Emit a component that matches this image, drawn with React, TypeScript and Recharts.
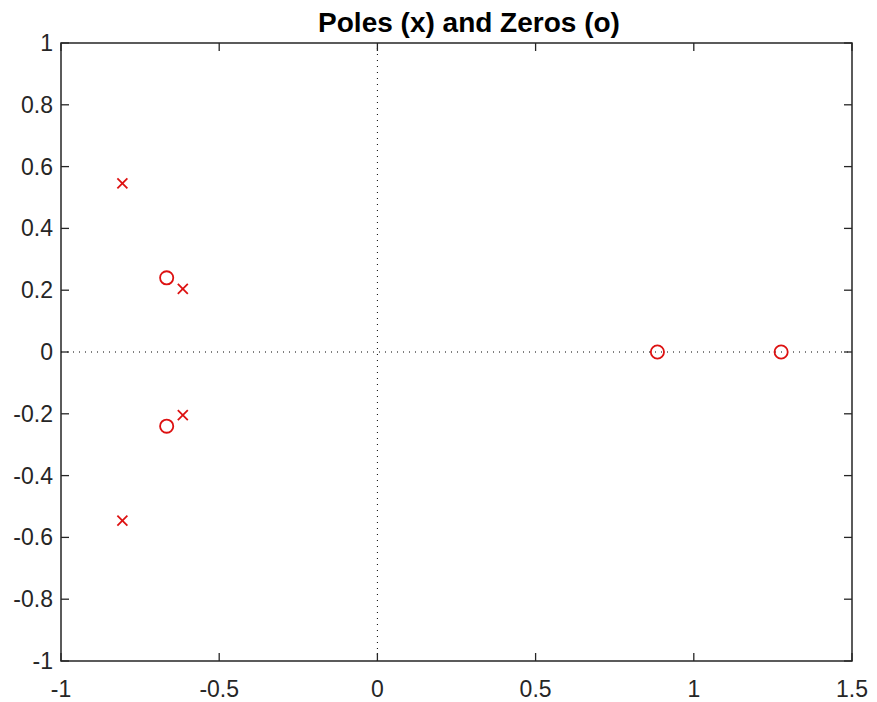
import { ScatterChart, Scatter, XAxis, YAxis, ReferenceLine, ReferenceArea } from 'recharts';

// ─── Data ────────────────────────────────────────────────────────────────────

const poles = [
  { x: -0.806, y: 0.546 },
  { x: -0.806, y: -0.546 },
  { x: -0.615, y: 0.204 },
  { x: -0.615, y: -0.204 },
];

const zeros = [
  { x: -0.666, y: 0.24 },
  { x: -0.666, y: -0.24 },
  { x: 0.885, y: 0 },
  { x: 1.276, y: 0 },
];

const xTicks = [-1, -0.5, 0, 0.5, 1, 1.5];
const yTicks = [-1, -0.8, -0.6, -0.4, -0.2, 0, 0.2, 0.4, 0.6, 0.8, 1];

// ─── Layout ──────────────────────────────────────────────────────────────────

const W = 869;
const H = 694;
const PL = 53;
const PT = 35;
const PR = 844;
const PB = 653;
const TICK = 8;

const FONT = '"Liberation Sans", Arial, Helvetica, sans-serif';
const AXIS_COLOR = '#262626';
const RED = '#dd1111';

function XTick(props: any) {
  const { x, payload } = props;
  return (
    <g>
      <line x1={x} y1={PB} x2={x} y2={PB - TICK} stroke={AXIS_COLOR} strokeWidth={1.3} />
      <line x1={x} y1={PT} x2={x} y2={PT + TICK} stroke={AXIS_COLOR} strokeWidth={1.3} />
      <text x={x} y={PB + 36} textAnchor="middle" fontSize={23} fontFamily={FONT} fill={AXIS_COLOR}>
        {String(payload.value)}
      </text>
    </g>
  );
}

function YTick(props: any) {
  const { y, payload } = props;
  return (
    <g>
      <line x1={PL} y1={y} x2={PL + TICK} y2={y} stroke={AXIS_COLOR} strokeWidth={1.3} />
      <line x1={PR} y1={y} x2={PR - TICK} y2={y} stroke={AXIS_COLOR} strokeWidth={1.3} />
      <text x={PL - 8} y={y + 8} textAnchor="end" fontSize={23} fontFamily={FONT} fill={AXIS_COLOR}>
        {String(payload.value)}
      </text>
    </g>
  );
}

function Cross(props: any) {
  const { cx, cy } = props;
  const s = 5;
  return (
    <g stroke={RED} strokeWidth={1.8}>
      <line x1={cx - s} y1={cy - s} x2={cx + s} y2={cy + s} />
      <line x1={cx - s} y1={cy + s} x2={cx + s} y2={cy - s} />
    </g>
  );
}

function Ring(props: any) {
  const { cx, cy } = props;
  return <circle cx={cx} cy={cy} r={6.6} fill="none" stroke={RED} strokeWidth={1.8} />;
}

export default function App() {
  return (
    <div style={{ position: 'relative', width: W, height: H }}>
      <ScatterChart
        width={W}
        height={H}
        margin={{ top: PT, right: W - PR, bottom: H - PB - 30, left: PL - 45 }}
      >
        <XAxis
          type="number"
          dataKey="x"
          domain={[-1, 1.5]}
          ticks={xTicks}
          allowDataOverflow
          height={30}
          axisLine={false}
          tickLine={false}
          tick={XTick}
          interval={0}
        />
        <YAxis
          type="number"
          dataKey="y"
          domain={[-1, 1]}
          ticks={yTicks}
          allowDataOverflow
          width={45}
          axisLine={false}
          tickLine={false}
          tick={YTick}
          interval={0}
        />
        <ReferenceLine x={0} stroke="#000" strokeWidth={1} strokeDasharray="1 5" />
        <ReferenceLine y={0} stroke="#000" strokeWidth={1} strokeDasharray="1 5" />
        <ReferenceArea x1={-1} x2={1.5} y1={-1} y2={1} fill="none" stroke={AXIS_COLOR} strokeWidth={1.5} />
        <Scatter name="Poles" data={poles} shape={Cross} isAnimationActive={false} />
        <Scatter name="Zeros" data={zeros} shape={Ring} isAnimationActive={false} />
      </ScatterChart>
      <svg width={W} height={PT} style={{ position: 'absolute', left: 0, top: 0, pointerEvents: 'none' }}>
        <text
          x={461}
          y={24}
          textAnchor="middle"
          fontSize={28}
          fontWeight="bold"
          fontFamily={FONT}
          fill="#000"
        >
          Poles (x) and Zeros (o)
        </text>
      </svg>
    </div>
  );
}
